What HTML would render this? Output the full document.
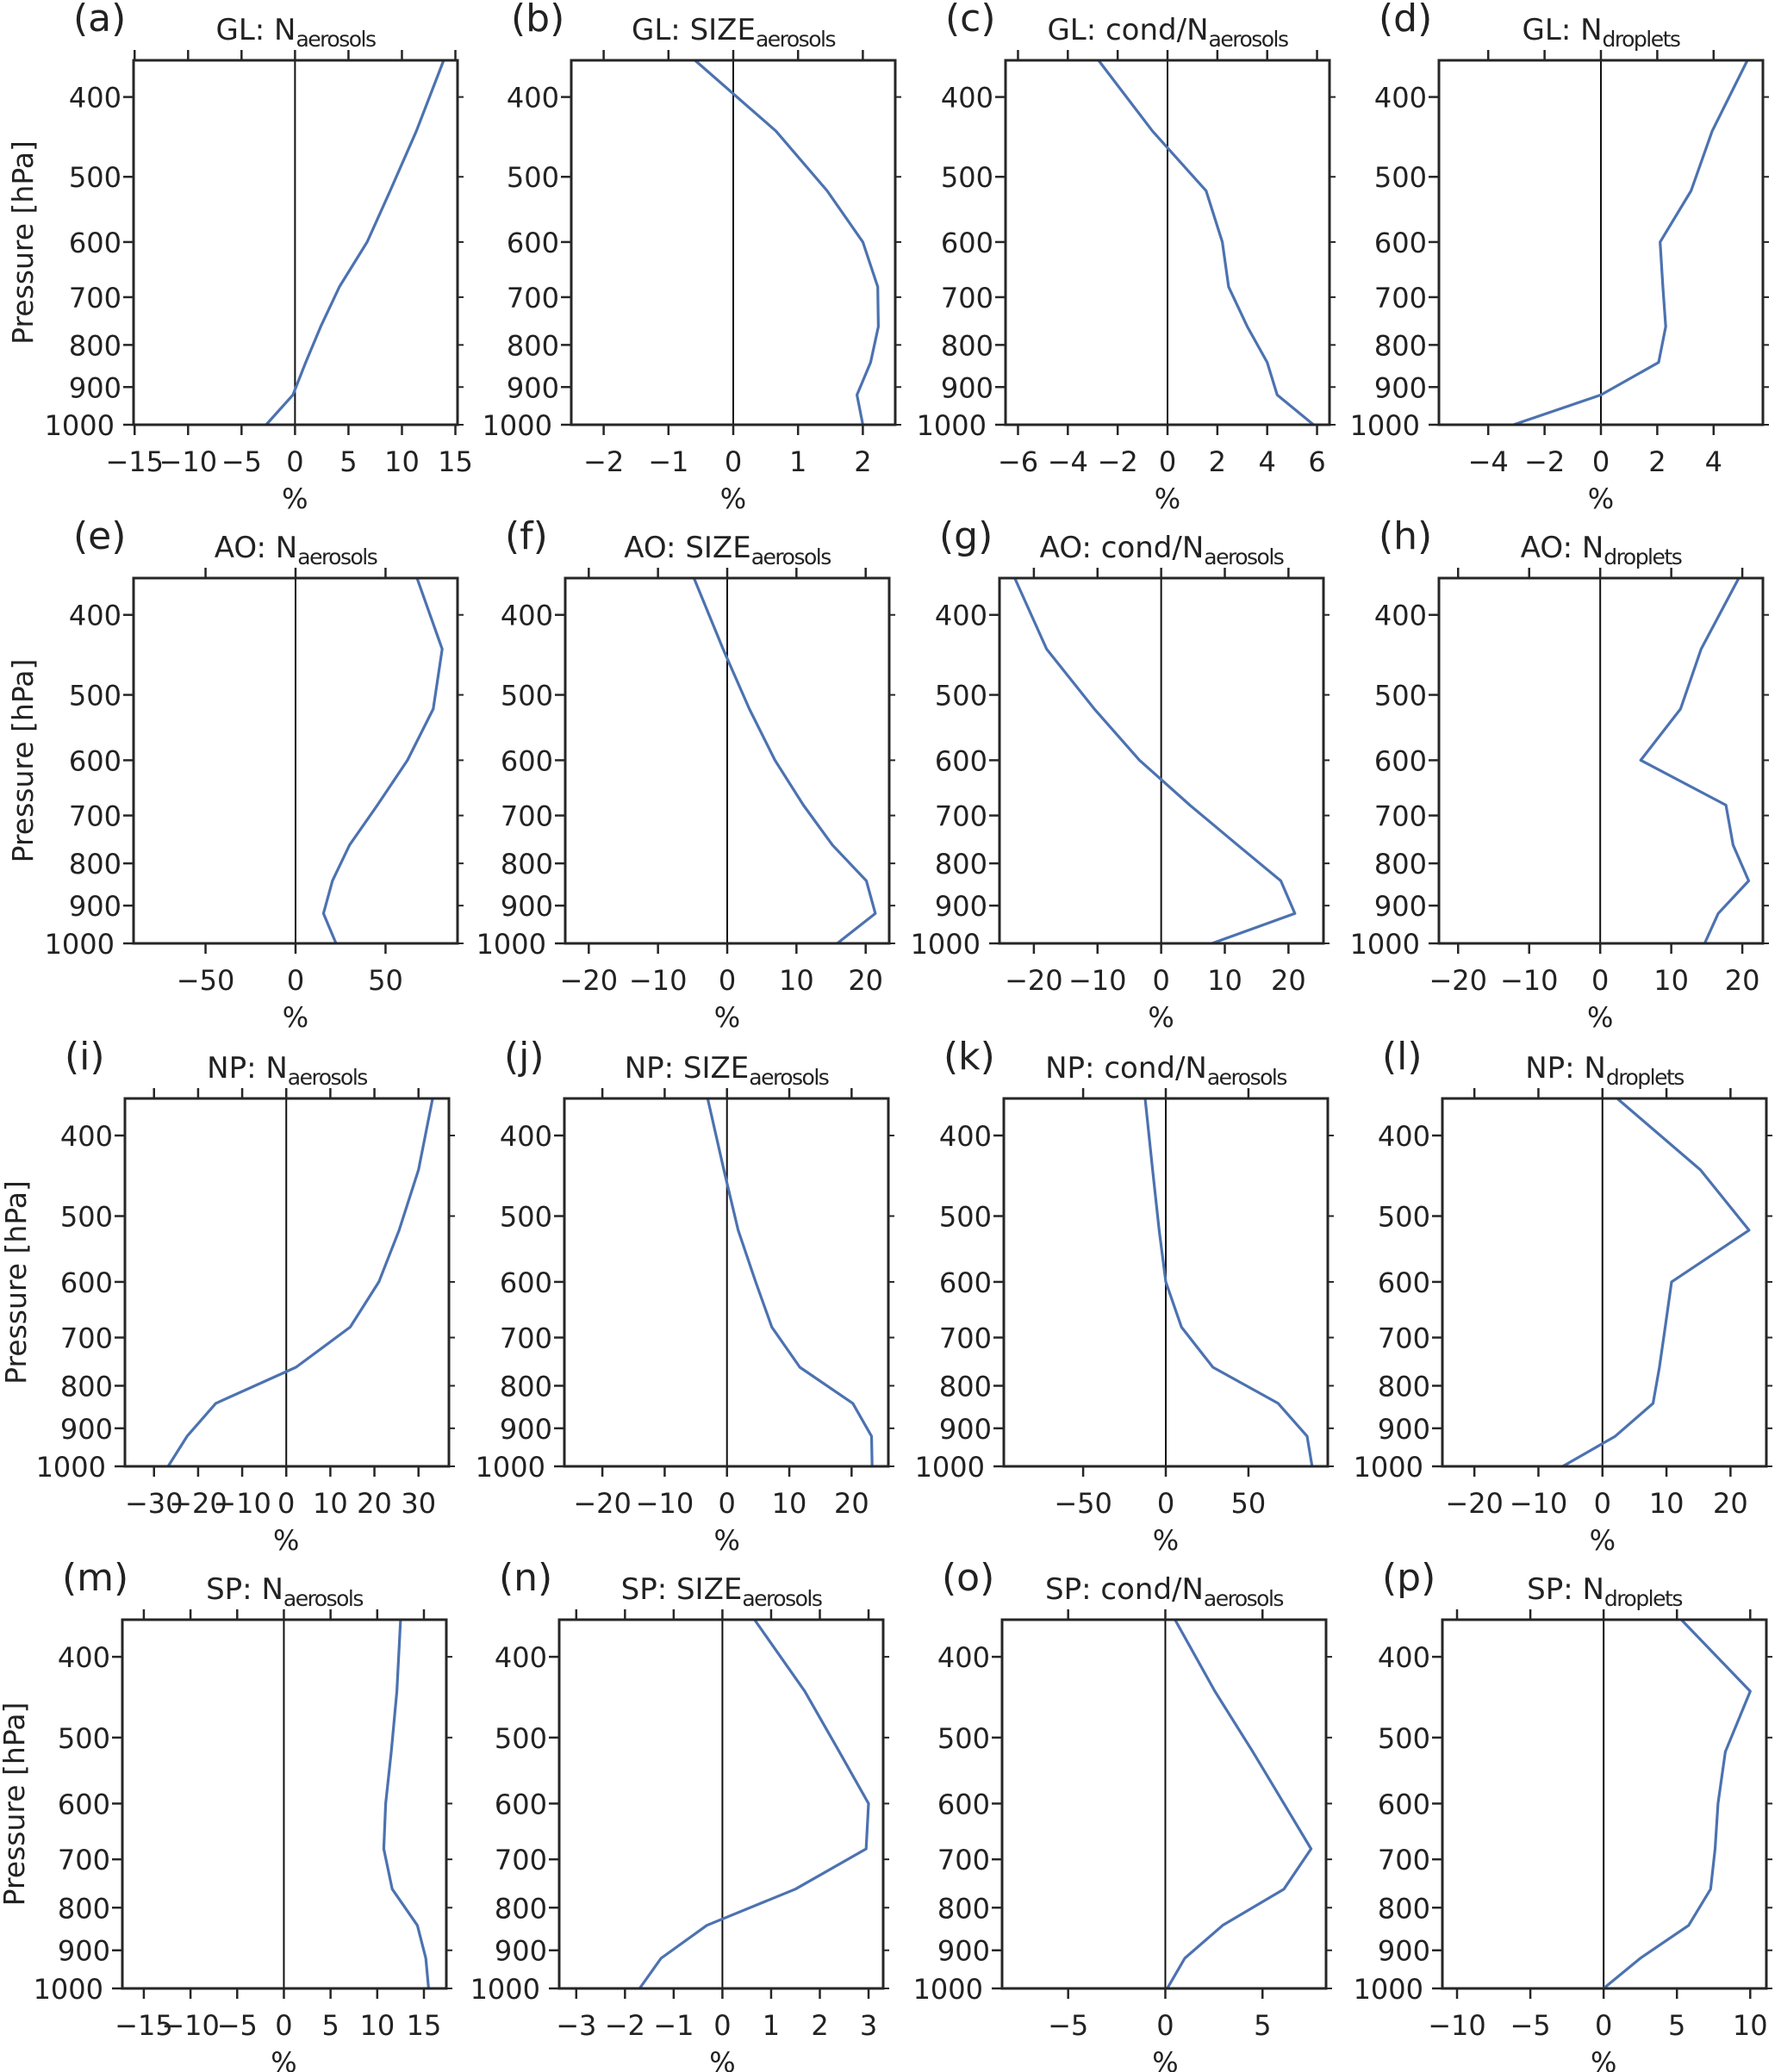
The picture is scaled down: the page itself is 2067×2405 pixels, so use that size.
<!DOCTYPE html>
<html><head><meta charset="utf-8">
<style>
html,body{margin:0;padding:0;background:#fff;}
svg{display:block;}
text{font-family:"DejaVu Sans","Liberation Sans",sans-serif;fill:#222;}
</style></head>
<body>
<svg id="fig" width="2067" height="2405" viewBox="0 0 2067 2405" xmlns="http://www.w3.org/2000/svg"></svg>
<script>
const levels = [361, 440, 520, 600, 680, 760, 840, 920, 1000];
const yTickValues = [400, 500, 600, 700, 800, 900, 1000];
const regions = ["GL", "AO", "NP", "SP"];
const varMain = ["N", "SIZE", "cond/N", "N"];
const varSub = ["aerosols", "aerosols", "aerosols", "droplets"];
const panelLetters = ["a","b","c","d","e","f","g","h","i","j","k","l","m","n","o","p"];

const valuesA = [13.9, 11.35, 8.9, 6.75, 4.15, 2.4, 1.0, -0.2, -2.7];
const valuesB = [-0.59, 0.66, 1.45, 2.0, 2.23, 2.24, 2.12, 1.91, 2.0];
const valuesC = [-2.77, -0.6, 1.55, 2.2, 2.45, 3.2, 4.0, 4.4, 5.86];
const valuesD = [5.2, 3.95, 3.2, 2.1, 2.2, 2.3, 2.05, 0, -3.1];
const valuesE = [67.5, 81.5, 76.5, 62.2, 45.5, 30, 20.5, 15.5, 22.5];
const valuesF = [-4.8, -0.6, 3.2, 6.9, 11.0, 15.2, 20.1, 21.4, 15.9];
const valuesG = [-23, -18, -10.5, -3.4, 4.5, 12, 18.8, 21, 8];
const valuesH = [19.5, 14.2, 11.3, 5.7, 17.7, 18.7, 20.9, 16.6, 14.7];
const valuesI = [33.2, 30, 25.6, 21, 14.5, 2.2, -16, -22.5, -26.8];
const valuesJ = [-3.1, -0.5, 1.8, 4.6, 7.2, 11.7, 20.2, 23.2, 23.3];
const valuesK = [-12.5, -8, -4, 0, 9.5, 28.5, 68, 85.5, 88.5];
const valuesL = [2.3, 15.3, 22.9, 10.8, 9.8, 8.9, 7.9, 2, -6.2];
const valuesM = [12.5, 12.1, 11.5, 10.9, 10.7, 11.6, 14.3, 15.2, 15.5];
const valuesN = [0.66, 1.69, 2.4, 3.0, 2.95, 1.5, -0.32, -1.26, -1.7];
const valuesO = [0.5, 2.55, 4.5, 6.1, 7.5, 6.1, 2.95, 1.0, 0.1];
const valuesP = [5.3, 10, 8.3, 7.8, 7.6, 7.3, 5.8, 2.5, 0];

const ticksA = [-15,-10,-5,0,5,10,15];
const ticksB = [-2,-1,0,1,2];
const ticksC = [-6,-4,-2,0,2,4,6];
const ticksD = [-4,-2,0,2,4];
const ticksE = [-50,0,50];
const ticksF = [-20,-10,0,10,20];
const ticksG = [-20,-10,0,10,20];
const ticksH = [-20,-10,0,10,20];
const ticksI = [-30,-20,-10,0,10,20,30];
const ticksJ = [-20,-10,0,10,20];
const ticksK = [-50,0,50];
const ticksL = [-20,-10,0,10,20];
const ticksM = [-15,-10,-5,0,5,10,15];
const ticksN = [-3,-2,-1,0,1,2,3];
const ticksO = [-5,0,5];
const ticksP = [-10,-5,0,5,10];

const allValues = [valuesA,valuesB,valuesC,valuesD,valuesE,valuesF,valuesG,valuesH,valuesI,valuesJ,valuesK,valuesL,valuesM,valuesN,valuesO,valuesP];
const allTicks = [ticksA,ticksB,ticksC,ticksD,ticksE,ticksF,ticksG,ticksH,ticksI,ticksJ,ticksK,ticksL,ticksM,ticksN,ticksO,ticksP];
const xDomains = [[-15.1,15.2],[-2.5,2.5],[-6.5,6.5],[-5.75,5.75],
                  [-90,90],[-23.4,23.4],[-25.4,25.5],[-22.7,22.9],
                  [-36.6,36.9],[-26.1,25.9],[-98,98],[-25,25.6],
                  [-17.3,17.4],[-3.35,3.3],[-8.4,8.27],[-11,11.1]];

const rowTop = [70, 671, 1275, 1880];
const rowBot = [493, 1095, 1702, 2308];
const colLeft = [[155,663,1167,1670],[155,656,1160,1670],[145,655,1165,1674],[142,649,1163,1674]];
const W = 376;
const yTitleX = [28, 28, 20, 18];
const P_TOP = 361, P_BOT = 1000;

const NS = "http://www.w3.org/2000/svg";
const svg = document.getElementById("fig");
function mk(tag, attrs, parent){
  const e = document.createElementNS(NS, tag);
  for (const k in attrs) e.setAttribute(k, attrs[k]);
  (parent||svg).appendChild(e);
  return e;
}
function fmt(v){ return (v<0?"\u2212":"") + Math.abs(v); }

for (let idx=0; idx<16; idx++){
  const r = Math.floor(idx/4), c = idx%4;
  const x0 = colLeft[r][c], x1 = x0 + W, y0 = rowTop[r], y1 = rowBot[r];
  const dom = xDomains[idx];
  const xs = v => x0 + (v - dom[0]) / (dom[1] - dom[0]) * (x1 - x0);
  const ys = p => y0 + (Math.log(p) - Math.log(P_TOP)) / (Math.log(P_BOT) - Math.log(P_TOP)) * (y1 - y0);

  const g = mk("g", {});
  
  

  const lab = mk("text", {x: x0 - 70, y: y0 - 34, "font-size": 44}, g);
  lab.textContent = "(" + panelLetters[idx] + ")";
  
  

  const t = mk("text", {x: x0 + W/2, y: y0 - 24, "font-size": 34, "text-anchor": "middle"}, g);
  
  
  const ts1 = mk("tspan", {}, t); ts1.textContent = regions[r] + ": " + varMain[c];
  const ts2 = mk("tspan", {dy: 8, "font-size": 25, "letter-spacing": "-1.5"}, t); ts2.textContent = varSub[c];

  const zl = mk("line", {x1: xs(0), x2: xs(0), y1: y0, y2: y1, stroke: "#111", "stroke-width": 2}, g);
  
  

  const pts = allValues[idx].map((v,i) => xs(v).toFixed(1) + "," + ys(levels[i]).toFixed(1)).join(" ");
  const pl = mk("polyline", {points: pts, fill: "none", stroke: "#4c72b0", "stroke-width": 3.2, "stroke-linejoin": "round"}, g);
  
  

  const fr = mk("rect", {x: x0, y: y0, width: W, height: y1 - y0, fill: "none", stroke: "#262626", "stroke-width": 3}, g);
  
  

  yTickValues.forEach(p => {
    const yy = ys(p);
    mk("line", {x1: x0 - 12, x2: x0, y1: yy, y2: yy, stroke: "#262626", "stroke-width": 2.5}, g);
    mk("line", {x1: x1, x2: x1 + 7, y1: yy, y2: yy, stroke: "#262626", "stroke-width": 2}, g);
    const tl = mk("text", {x: p === 1000 ? x0 - 22 : x0 - 14, y: yy + 12, "font-size": 32, "text-anchor": "end"}, g);
    tl.textContent = p;
    
    
  });

  allTicks[idx].forEach(v => {
    const xx = xs(v);
    mk("line", {x1: xx, x2: xx, y1: y0 - 12, y2: y0, stroke: "#262626", "stroke-width": 2.5}, g);
    mk("line", {x1: xx, x2: xx, y1: y1, y2: y1 + 12, stroke: "#262626", "stroke-width": 2.5}, g);
    const tl = mk("text", {x: xx, y: y1 + 54, "font-size": 32, "text-anchor": "middle"}, g);
    tl.textContent = fmt(v);
    
    
  });

  const xt = mk("text", {x: xs(0), y: y1 + 97, "font-size": 32, "text-anchor": "middle"}, g);
  xt.textContent = "%";
  
  

  if (c === 0){
    const cy = (y0 + y1) / 2, cx = yTitleX[r] + 10;
    const yt = mk("text", {x: cx, y: cy, "font-size": 33, "text-anchor": "middle", transform: "rotate(-90 " + cx + " " + cy + ")"}, g);
    yt.textContent = "Pressure [hPa]";
    
    
  }
}
</script>
</body></html>
